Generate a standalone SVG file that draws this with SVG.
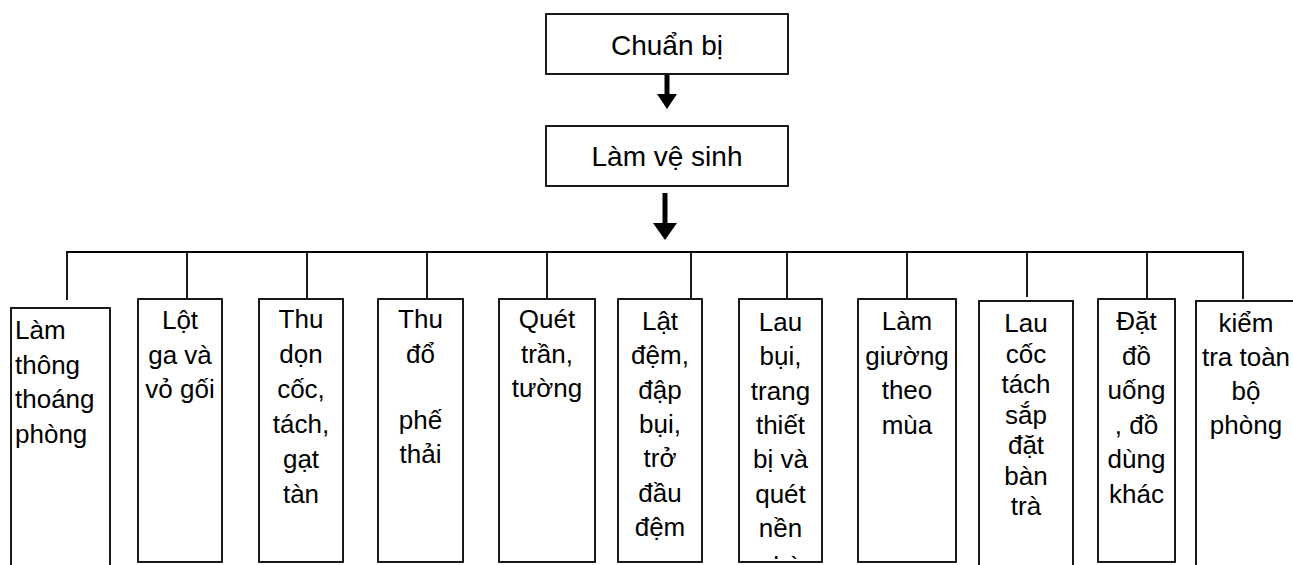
<svg xmlns="http://www.w3.org/2000/svg" width="1293" height="565" viewBox="0 0 1293 565">
<defs>
<style>
.box{fill:#fff;stroke:#000;stroke-width:1.8}
.t{font-family:"Liberation Sans",Arial,sans-serif;font-size:26px;fill:#000;text-anchor:middle}
.tl{text-anchor:start}
.top{font-size:28px}
.ln{stroke:#000;stroke-width:1.8;fill:none}
.ah{fill:#000;stroke:none}
</style>
<clipPath id="clip7"><rect x="739" y="299" width="83" height="260"/></clipPath>
</defs>
<rect width="1293" height="565" fill="#fff"/>
<g id="connectors">
<rect class="ah" x="664.5" y="75" width="5" height="20"/>
<polygon class="ah" points="657,94 677,94 667,109"/>
<rect class="ah" x="662.5" y="193" width="5" height="31"/>
<polygon class="ah" points="653,223 677,223 665,240"/>
<path class="ln" d="M67,300 V252 H1243 V299 M187,252 V299 M307,252 V299 M427,252 V299 M547,252 V299 M691,252 V299 M787,252 V299 M907,252 V299 M1027,252 V297 M1147,252 V299"/>
</g>
<g id="n-chuanbi">
<rect class="box" x="546" y="14" width="242" height="60"/>
<text class="t top" x="667" y="55">Chuẩn bị</text>
</g>
<g id="n-lamvesinh">
<rect class="box" x="546" y="126" width="242" height="60"/>
<text class="t top" x="667" y="166">Làm vệ sinh</text>
</g>
<g id="n1">
<rect class="box" x="11" y="308" width="99" height="270"/>
<text class="t tl" x="15"><tspan x="15" y="339">Làm</tspan><tspan x="15" y="373.7">thông</tspan><tspan x="15" y="408.3">thoáng</tspan><tspan x="15" y="443">phòng</tspan></text>
</g>
<g id="n2">
<rect class="box" x="138" y="299" width="84" height="263"/>
<text class="t"><tspan x="180" y="329">Lột</tspan><tspan x="180" y="363.5">ga và</tspan><tspan x="180" y="398">vỏ gối</tspan></text>
</g>
<g id="n3">
<rect class="box" x="259" y="299" width="84" height="263"/>
<text class="t"><tspan x="301" y="328">Thu</tspan><tspan x="301" y="363">dọn</tspan><tspan x="301" y="398">cốc,</tspan><tspan x="301" y="433">tách,</tspan><tspan x="301" y="468">gạt</tspan><tspan x="301" y="503">tàn</tspan></text>
</g>
<g id="n4">
<rect class="box" x="378" y="299" width="85" height="263"/>
<text class="t"><tspan x="420.5" y="328">Thu</tspan><tspan x="420.5" y="362.5">đổ</tspan><tspan x="420.5" y="429">phế</tspan><tspan x="420.5" y="463">thải</tspan></text>
</g>
<g id="n5">
<rect class="box" x="499" y="299" width="96" height="263"/>
<text class="t"><tspan x="547" y="328">Quét</tspan><tspan x="547" y="362.5">trần,</tspan><tspan x="547" y="397">tường</tspan></text>
</g>
<g id="n6">
<rect class="box" x="618" y="299" width="84" height="263"/>
<text class="t"><tspan x="660" y="330">Lật</tspan><tspan x="660" y="364.3">đệm,</tspan><tspan x="660" y="398.6">đập</tspan><tspan x="660" y="432.9">bụi,</tspan><tspan x="660" y="467.2">trở</tspan><tspan x="660" y="501.5">đầu</tspan><tspan x="660" y="535.8">đệm</tspan></text>
</g>
<g id="n7">
<rect class="box" x="739" y="299" width="83" height="263"/>
<text class="t" clip-path="url(#clip7)"><tspan x="780.5" y="331">Lau</tspan><tspan x="780.5" y="365.3">bụi,</tspan><tspan x="780.5" y="399.6">trang</tspan><tspan x="780.5" y="433.9">thiết</tspan><tspan x="780.5" y="468.2">bị và</tspan><tspan x="780.5" y="502.5">quét</tspan><tspan x="780.5" y="536.8">nền</tspan><tspan x="780.5" y="575">nhà</tspan></text>
</g>
<g id="n8">
<rect class="box" x="858" y="299" width="98" height="263"/>
<text class="t"><tspan x="907" y="330">Làm</tspan><tspan x="907" y="364.5">giường</tspan><tspan x="907" y="399">theo</tspan><tspan x="907" y="433.5">mùa</tspan></text>
</g>
<g id="n9">
<rect class="box" x="979" y="301" width="94" height="280"/>
<text class="t"><tspan x="1026" y="332">Lau</tspan><tspan x="1026" y="362.5">cốc</tspan><tspan x="1026" y="393">tách</tspan><tspan x="1026" y="423.5">sắp</tspan><tspan x="1026" y="454">đặt</tspan><tspan x="1026" y="484.5">bàn</tspan><tspan x="1026" y="515">trà</tspan></text>
</g>
<g id="n10">
<rect class="box" x="1098" y="299" width="77" height="263"/>
<text class="t"><tspan x="1136.5" y="330">Đặt</tspan><tspan x="1136.5" y="364.6">đồ</tspan><tspan x="1136.5" y="399.2">uống</tspan><tspan x="1136.5" y="433.8">, đồ</tspan><tspan x="1136.5" y="468.4">dùng</tspan><tspan x="1136.5" y="503">khác</tspan></text>
</g>
<g id="n11">
<rect class="box" x="1196" y="301" width="110" height="280"/>
<text class="t"><tspan x="1246" y="332">kiểm</tspan><tspan x="1246" y="366">tra toàn</tspan><tspan x="1246" y="400">bộ</tspan><tspan x="1246" y="434">phòng</tspan></text>
</g>
</svg>
